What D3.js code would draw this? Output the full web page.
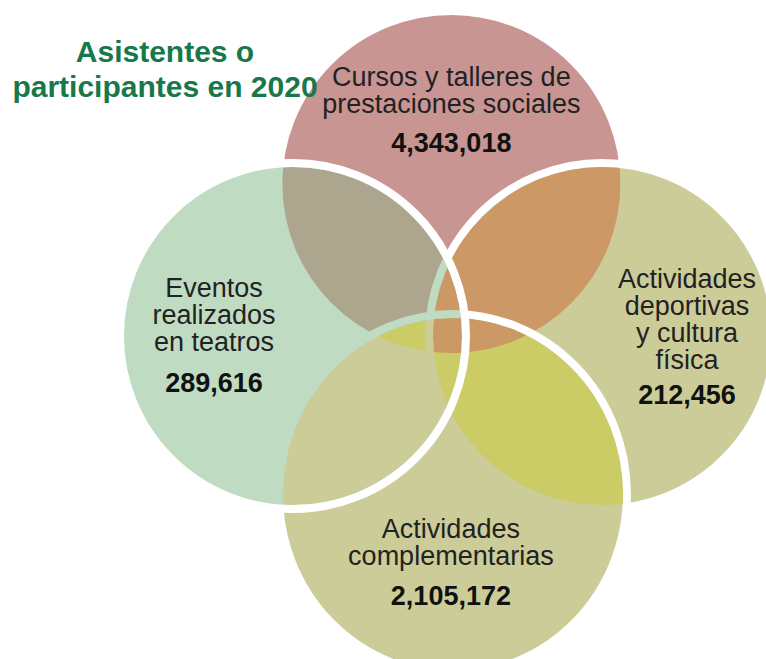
<!DOCTYPE html>
<html>
<head>
<meta charset="utf-8">
<script src="https://cdn.jsdelivr.net/npm/d3@7"></script>
<style>
  body { margin: 0; background: #fff; }
  text { font-family: "Liberation Sans", Arial, sans-serif; }
</style>
</head>
<body>
<script>
var titleLines = ["Asistentes o", "participantes en 2020"];

var categories = [
  "Cursos y talleres de prestaciones sociales",
  "Eventos realizados en teatros",
  "Actividades deportivas y cultura física",
  "Actividades complementarias"
];
var values = [4343018, 289616, 212456, 2105172];
var labelLines = [
  ["Cursos y talleres de", "prestaciones sociales"],
  ["Eventos", "realizados", "en teatros"],
  ["Actividades", "deportivas", "y cultura", "física"],
  ["Actividades", "complementarias"]
];

var width = 766, height = 659;
var sw = 8;

var col = { pink: "#c99593", green: "#bfdcc3", khaki: "#cccc99",
            grayBrown: "#ada68f", orange: "#cc9966", yellowGreen: "#cccc66" };

// diamond layout: top, left, right, bottom  [col, row, rx, ry]
var slots = [[0.025, -1, 173, 173], [-1, 0, 173, 173], [1, 0, 173, 173], [0.035, 1.04, 174, 180]];
var labelPos = [[0, -98, -32], [-79, -39, 56], [85, -48, 68], [-2, 44, 111]];

var x = d3.scaleLinear().domain([-1, 1]).range([293, 602]);
var y = d3.scaleLinear().domain([-1, 1]).range([184, 488]);
var fmt = d3.format(",");

var sets = categories.map(function (c, i) {
  return { name: c, value: values[i], lines: labelLines[i],
           cx: x(slots[i][0]), cy: y(slots[i][1]), rx: slots[i][2], ry: slots[i][3] };
});
var T = 0, L = 1, R = 2, B = 3;

var svg = d3.select("body").append("svg")
    .attr("width", width)
    .attr("height", height);

function shape(g, i, inset) {
  var d = sets[i];
  return g.append("ellipse").attr("cx", d.cx).attr("cy", d.cy)
    .attr("rx", d.rx - inset).attr("ry", d.ry - inset);
}

var defs = svg.append("defs");
sets.forEach(function (d, i) {
  shape(defs.append("clipPath").attr("id", "in" + i), i, sw / 2);
});

function clipped(ids) {
  var g = svg;
  ids.forEach(function (i) { g = g.append("g").attr("clip-path", "url(#in" + i + ")"); });
  return g;
}
function fillAll(g, color) {
  g.append("rect").attr("width", width).attr("height", height).attr("fill", color);
}
function disc(i, fill, stroke) {
  shape(svg, i, 0).attr("fill", fill)
    .attr("stroke", stroke).attr("stroke-width", stroke == "none" ? 0 : sw);
}
function ring(g, i, color) {
  shape(g, i, 0).attr("fill", "none").attr("stroke", color).attr("stroke-width", sw);
}

// layers bottom to top: T, R, B, L
disc(T, col.pink, "#fff");

disc(R, col.khaki, "#fff");
fillAll(clipped([R, T]), col.orange);

disc(B, col.khaki, "#fff");
fillAll(clipped([B, R]), col.yellowGreen);
fillAll(clipped([B, R, T]), col.orange);

disc(L, col.green, "none");
fillAll(clipped([L, T]), col.grayBrown);
fillAll(clipped([L, T, R]), col.orange);
ring(clipped([L]), R, col.green);
fillAll(clipped([L, B]), col.khaki);
fillAll(clipped([L, B, T]), col.yellowGreen);
fillAll(clipped([L, B, R]), col.yellowGreen);
fillAll(clipped([L, B, R, T]), col.orange);
ring(clipped([L, B]), R, col.khaki);
ring(clipped([L]), B, col.green);
ring(svg, L, "#fff");

// labels
var lbl = svg.selectAll("g.label").data(sets).enter().append("g").attr("class", "label");
lbl.each(function (d, i) {
  var g = d3.select(this);
  var p = labelPos[i];
  d.lines.forEach(function (t, k) {
    g.append("text")
      .attr("x", d.cx + p[0]).attr("y", d.cy + p[1] + k * 27)
      .attr("text-anchor", "middle")
      .attr("font-size", 27).attr("fill", "#222")
      .text(t);
  });
  g.append("text")
    .attr("x", d.cx + p[0]).attr("y", d.cy + p[2])
    .attr("text-anchor", "middle")
    .attr("font-size", 27).attr("font-weight", "bold").attr("fill", "#111")
    .text(fmt(d.value));
});

svg.selectAll("text.title").data(titleLines).enter().append("text")
  .attr("class", "title")
  .attr("x", 165).attr("y", function (d, i) { return 62 + i * 35; })
  .attr("text-anchor", "middle")
  .attr("font-size", 30).attr("font-weight", "bold").attr("fill", "#17784a")
  .text(function (d) { return d; });
</script>
</body>
</html>
